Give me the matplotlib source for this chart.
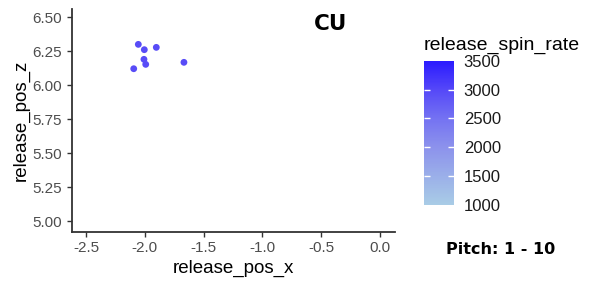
import matplotlib
matplotlib.use('Agg')
import matplotlib.pyplot as plt
import numpy as np
from matplotlib.colors import LinearSegmentedColormap, Normalize
from matplotlib.colorbar import ColorbarBase

plt.rcParams['font.family'] = ['Liberation Sans', 'DejaVu Sans']

# pitch release data (pitch type CU)
release_pos_x = [-2.055, -2.004, -1.902, -2.007, -1.992, -2.094, -1.667]
release_pos_z = [6.301, 6.262, 6.279, 6.191, 6.154, 6.122, 6.169]
release_spin_rate = [2950, 2950, 2950, 2950, 2950, 2950, 2950]

x_ticks = [-2.5, -2.0, -1.5, -1.0, -0.5, 0.0]
y_ticks = [5.00, 5.25, 5.50, 5.75, 6.00, 6.25, 6.50]
cbar_ticks = [1000, 1500, 2000, 2500, 3000, 3500]

pitch_type = 'CU'
pitch_range = 'Pitch: 1 - 10'

cmap = LinearSegmentedColormap.from_list(
    'spin', [(0.0, '#A9CCE6'), (0.4, '#8C92EC'), (0.6, '#7472F2'),
             (0.8, '#5548F8'), (1.0, '#2A1AFF')])
norm = Normalize(vmin=1000, vmax=3500)

fig = plt.figure(figsize=(6, 2.84), dpi=100)
ax = fig.add_axes([72 / 600, 52.3 / 284, 323 / 600, 222.7 / 284])

ax.scatter(release_pos_x, release_pos_z, c=release_spin_rate, cmap=cmap, norm=norm,
           s=24, linewidths=0, zorder=3)

ax.set_xlim(-2.619, 0.128)
ax.set_ylim(4.924, 6.561)
ax.set_xticks(x_ticks)
ax.set_xticklabels(['%.1f' % v for v in x_ticks])
ax.set_yticks(y_ticks)
ax.set_yticklabels(['%.2f' % v for v in y_ticks])

for side in ['top', 'right']:
    ax.spines[side].set_visible(False)
for side in ['left', 'bottom']:
    ax.spines[side].set_color('#333333')
    ax.spines[side].set_linewidth(1.3)
ax.tick_params(colors='#333333', labelcolor='#4D4D4D', labelsize=11, length=3.5, width=1.0)

ax.set_xlabel('release_pos_x', fontsize=13.5, color='black', labelpad=3)
ax.set_ylabel('release_pos_z', fontsize=13.5, color='black', labelpad=2)

fig.text(331 / 600, 1 - 24 / 284, pitch_type, fontsize=15.5, fontweight='heavy',
         family='DejaVu Sans', ha='center', va='center')

cax = fig.add_axes([424 / 600, 79 / 284, 30 / 600, 144.3 / 284])
cb = ColorbarBase(cax, cmap=cmap, norm=norm, ticks=cbar_ticks)
cb.outline.set_visible(False)
cax.tick_params(length=0, labelsize=12, labelcolor='#1A1A1A', pad=7)
for t in cbar_ticks[1:-1]:
    cax.hlines(t, 0, 0.2, color='white', linewidth=1.0, transform=cax.get_yaxis_transform())
    cax.hlines(t, 0.8, 1.0, color='white', linewidth=1.0, transform=cax.get_yaxis_transform())
fig.text(424 / 600, 1 - 45 / 284, 'release_spin_rate', fontsize=14, ha='left', va='center')

fig.text(501 / 600, 1 - 250 / 284, pitch_range, fontsize=11.5, fontweight='heavy',
         family='DejaVu Sans', ha='center', va='center')

fig.savefig('out.png', dpi=100)
